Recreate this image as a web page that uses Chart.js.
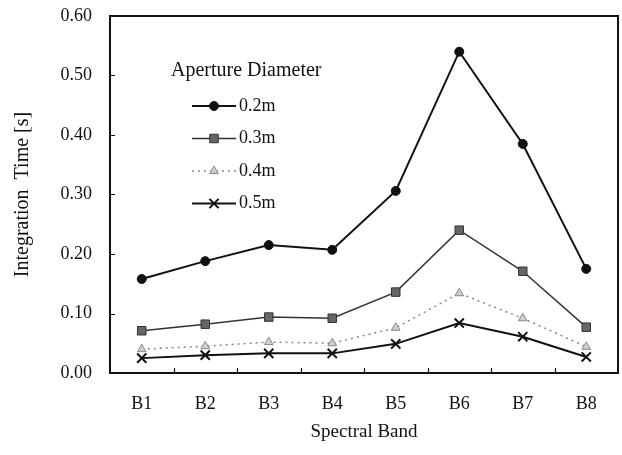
<!DOCTYPE html>
<html>
<head>
<meta charset="utf-8">
<script src="https://cdn.jsdelivr.net/npm/chart.js@4.4.1/dist/chart.umd.min.js"></script>
<style>
    html, body { margin: 0; padding: 0; background: #fff; }
    #wrap { width: 622px; height: 455px; }
</style>
</head>
<body>
<div id="wrap"><canvas id="timeChart" width="622" height="455"></canvas></div>
<script>
/* ==========================================
   INTEGRATION TIME vs SPECTRAL BAND
   ========================================== */

const bands = ['B1', 'B2', 'B3', 'B4', 'B5', 'B6', 'B7', 'B8'];
const apertures = ['0.2m', '0.3m', '0.4m', '0.5m'];
const time02 = [0.158, 0.188, 0.215, 0.207, 0.306, 0.540, 0.385, 0.175];
const time03 = [0.071, 0.082, 0.094, 0.092, 0.136, 0.240, 0.171, 0.077];
const time04 = [0.040, 0.045, 0.052, 0.050, 0.076, 0.134, 0.092, 0.044];
const time05 = [0.025, 0.030, 0.033, 0.033, 0.049, 0.084, 0.061, 0.027];
const yMin = 0;
const yMax = 0.6;
const yStep = 0.1;
const legendTitle = 'Aperture Diameter';

const SERIF = "'Liberation Serif', 'DejaVu Serif', serif";

Chart.defaults.font.family = SERIF;
Chart.defaults.color = '#111';

// Box around the plot plus small inward tick marks
const framePlugin = {
    id: 'frame',
    beforeDatasetsDraw(chart) {
        const { ctx, chartArea: a, scales: { x, y } } = chart;
        ctx.save();
        ctx.strokeStyle = '#111';
        ctx.lineWidth = 2;
        ctx.strokeRect(a.left, a.top, a.right - a.left, a.bottom - a.top);

        ctx.lineWidth = 1.2;
        ctx.beginPath();
        for (let v = yMin + yStep; v < yMax - 0.001; v += yStep) {
            const py = Math.round(y.getPixelForValue(v)) + 0.5;
            ctx.moveTo(a.left, py);
            ctx.lineTo(a.left + 5, py);
        }
        for (let i = 0; i < bands.length - 1; i++) {
            const px = Math.round((x.getPixelForValue(i) + x.getPixelForValue(i + 1)) / 2) + 0.5;
            ctx.moveTo(px, a.bottom);
            ctx.lineTo(px, a.bottom - 5);
        }
        ctx.stroke();
        ctx.restore();
    }
};

// Legend drawn inside the plot, top-left
const legendPlugin = {
    id: 'insideLegend',
    afterDraw(chart) {
        const { ctx, chartArea: a } = chart;
        const x0 = a.left + 82;
        const x1 = a.left + 126;
        const textX = a.left + 129;
        ctx.save();
        ctx.fillStyle = '#111';
        ctx.textBaseline = 'middle';
        ctx.textAlign = 'left';
        ctx.font = '20px ' + SERIF;
        ctx.fillText(legendTitle, a.left + 61, a.top + 55);

        ctx.font = '18px ' + SERIF;
        chart.data.datasets.forEach((ds, i) => {
            const ly = a.top + 90 + i * 32.5;
            ctx.save();
            ctx.strokeStyle = ds.borderColor;
            ctx.lineWidth = ds.borderWidth;
            ctx.setLineDash(ds.borderDash || []);
            ctx.beginPath();
            ctx.moveTo(x0, ly);
            ctx.lineTo(x1, ly);
            ctx.stroke();
            ctx.setLineDash([]);
            ctx.fillStyle = ds.pointBackgroundColor;
            ctx.strokeStyle = ds.pointBorderColor;
            ctx.lineWidth = ds.pointBorderWidth;
            Chart.helpers.drawPoint(ctx, {
                pointStyle: ds.pointStyle,
                radius: ds.pointRadius,
                rotation: 0,
                borderWidth: ds.pointBorderWidth
            }, (x0 + x1) / 2, ly);
            ctx.restore();
            ctx.fillStyle = '#111';
            ctx.fillText(ds.label, textX, ly);
        });
        ctx.restore();
    }
};

function initChart() {
    const ctx = document.getElementById('timeChart');

    new Chart(ctx, {
        type: 'line',
        data: {
            labels: bands,
            datasets: [{
                label: apertures[0],
                data: time02,
                borderColor: '#111',
                borderWidth: 2,
                pointStyle: 'circle',
                pointRadius: 4.5,
                pointBackgroundColor: '#111',
                pointBorderColor: '#111',
                pointBorderWidth: 1
            }, {
                label: apertures[1],
                data: time03,
                borderColor: '#333',
                borderWidth: 1.5,
                pointStyle: 'rect',
                pointRadius: 6,
                pointBackgroundColor: '#666',
                pointBorderColor: '#333',
                pointBorderWidth: 1
            }, {
                label: apertures[2],
                data: time04,
                borderColor: '#888',
                borderWidth: 1.5,
                borderDash: [2, 4],
                pointStyle: 'triangle',
                pointRadius: 5,
                pointBackgroundColor: '#d0d0d0',
                pointBorderColor: '#888',
                pointBorderWidth: 1
            }, {
                label: apertures[3],
                data: time05,
                borderColor: '#111',
                borderWidth: 2,
                pointStyle: 'crossRot',
                pointRadius: 6.5,
                pointBackgroundColor: '#111',
                pointBorderColor: '#111',
                pointBorderWidth: 2
            }]
        },
        options: {
            responsive: false,
            devicePixelRatio: 1,
            animation: false,
            layout: {
                autoPadding: false,
                padding: { left: 11, right: 4, top: 16, bottom: 12 }
            },
            plugins: {
                legend: { display: false },
                tooltip: { enabled: false }
            },
            scales: {
                x: {
                    offset: true,
                    grid: { display: false, drawTicks: false },
                    border: { display: false },
                    afterFit: scale => {
                        scale.height = 70;
                        scale.paddingLeft = 0;
                        scale.paddingRight = 0;
                    },
                    ticks: {
                        padding: 20,
                        font: { size: 18 },
                        color: '#111'
                    },
                    title: {
                        display: true,
                        text: 'Spectral Band',
                        font: { size: 19 },
                        color: '#111',
                        padding: 0
                    }
                },
                y: {
                    min: yMin,
                    max: yMax,
                    grid: { display: false, drawTicks: false },
                    border: { display: false },
                    afterFit: scale => {
                        scale.width = 99;
                        scale.paddingTop = 0;
                        scale.paddingBottom = 0;
                    },
                    ticks: {
                        stepSize: yStep,
                        padding: 18,
                        font: { size: 18 },
                        color: '#111',
                        callback: value => value.toFixed(2)
                    },
                    title: {
                        display: true,
                        text: 'Integration  Time [s]',
                        font: { size: 20 },
                        color: '#111',
                        padding: 0
                    }
                }
            }
        },
        plugins: [framePlugin, legendPlugin]
    });
}

document.addEventListener('DOMContentLoaded', initChart);
</script>
</body>
</html>
